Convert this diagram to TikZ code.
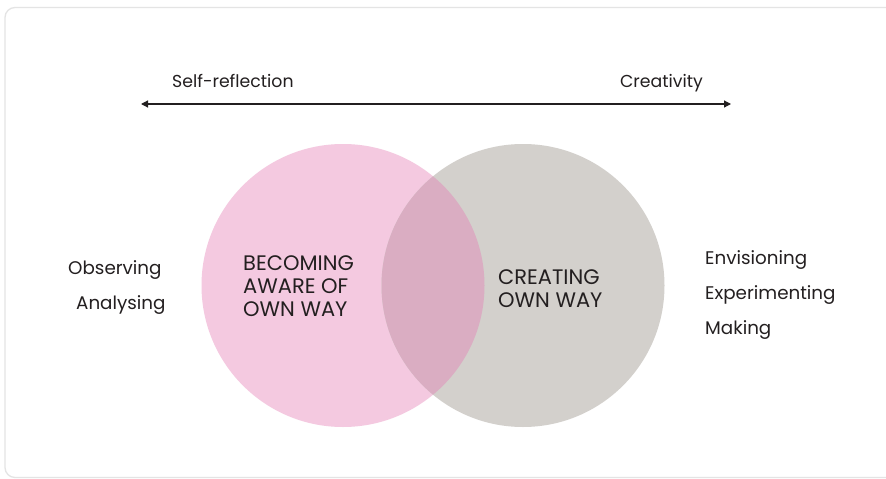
\documentclass[tikz,border=0pt]{standalone}
\usepackage{fontspec}
\setmainfont{Poppins}
\usetikzlibrary{arrows.meta}
\definecolor{pinkc}{HTML}{F4C9E0}
\definecolor{grayc}{HTML}{D3D0CC}
\definecolor{overc}{HTML}{DAADC2}
\definecolor{framec}{HTML}{E4E4E4}
\definecolor{txtc}{HTML}{231F20}
\begin{document}
\begin{tikzpicture}[x=1pt,y=-1pt,
  lbl/.style={font=\fontsize{17.3}{20}\selectfont, text=txtc, inner sep=0pt},
  inlbl/.style={font=\fontsize{21}{23}\selectfont, text=txtc, align=left, inner sep=0pt},
  sidelbl/.style={font=\fontsize{18.3}{35}\selectfont, text=txtc, align=left, inner sep=0pt},
  venn/.style={circle, minimum size=283pt, inner sep=0pt}]
\useasboundingbox (0,0) rectangle (886,479);
\clip (0,0) rectangle (886,479);
\fill[white] (0,0) rectangle (886,479);
\draw[framec, line width=1.3pt, rounded corners=10pt] (5,7.5) rectangle (920,477.5);
% circles
\node[venn, fill=pinkc] (pink) at (343,285.5) {};
\node[venn, fill=grayc] (gray) at (523,285.5) {};
\begin{scope}
  \clip (343,285.5) circle (141.5);
  \fill[overc] (523,285.5) circle (141.5);
\end{scope}
% arrow
\coordinate (aL) at (141,104);
\coordinate (aR) at (731,104);
\draw[txtc, line width=1.2pt, {Triangle[length=7pt,width=7pt]}-{Triangle[length=7pt,width=7pt]}] (aL) -- (aR);
\node[lbl, anchor=base west] (self) at (172,87) {Self-reflection};
\node[lbl, anchor=base east] (crea) at (703,87) {Creativity};
% inner labels (base anchor = last line)
\node[inlbl, anchor=base west] (becoming) at (243,316) {BECOMING\\AWARE OF\\OWN WAY};
\node[inlbl, anchor=base west] (creating) at (498,307) {CREATING\\OWN WAY};
% side labels
\node[sidelbl, anchor=base west] (obs) at (68,274) {Observing};
\node[sidelbl, anchor=base west] (ana) at (76,309) {Analysing};
\node[sidelbl, anchor=base west] (env) at (705,334) {Envisioning\\Experimenting\\Making};
\end{tikzpicture}
\end{document}
